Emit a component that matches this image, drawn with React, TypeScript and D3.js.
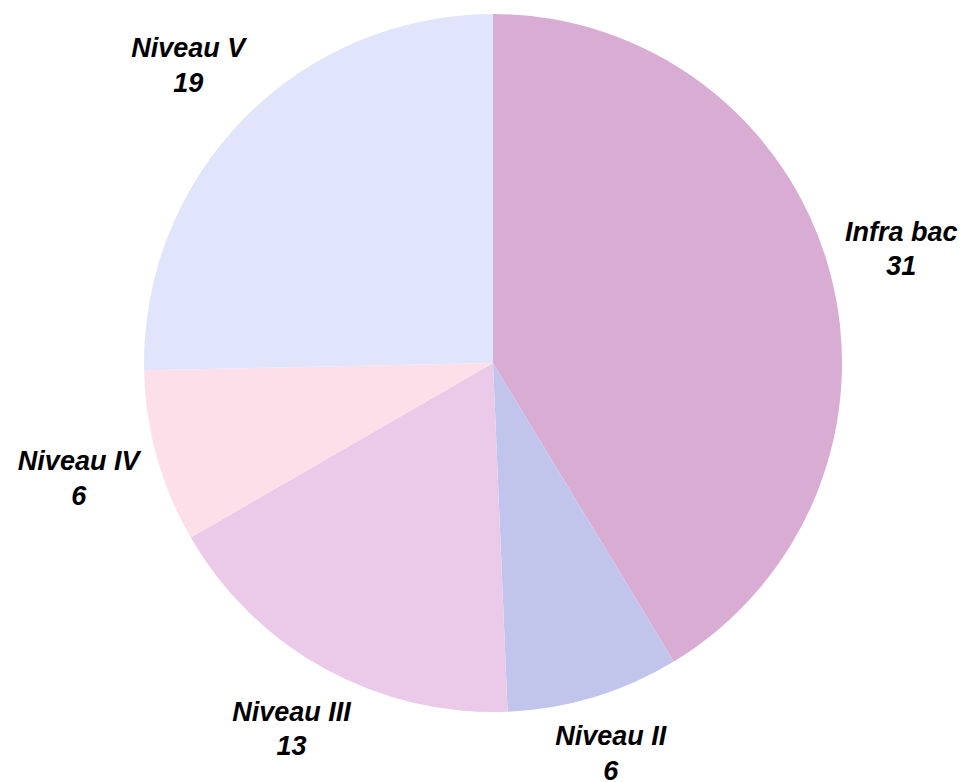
import React, { useEffect, useRef } from 'react'
import * as d3 from 'd3'

const categories = ['Infra bac', 'Niveau II', 'Niveau III', 'Niveau IV', 'Niveau V']
const values = [31, 6, 13, 6, 19]
const colors = ['#D8ACD3', '#C2C5EB', '#EBCAE9', '#FDDFE9', '#E1E5FC']

const W = 966
const H = 782

export default function App() {
  const ref = useRef<SVGSVGElement>(null)

  useEffect(() => {
    const svg = d3.select(ref.current)
    svg.selectAll('*').remove()

    const cx = 493
    const cy = 363
    const radius = 349

    const data = categories.map((c, i) => ({ name: c, value: values[i], color: colors[i] }))
    const pie = d3.pie<any>().value(d => d.value).sort(null)
    const arcs = pie(data)
    const arc = d3.arc<any>().innerRadius(0).outerRadius(radius)

    const g = svg.append('g').attr('transform', `translate(${cx}, ${cy})`)

    g.selectAll('path').data(arcs).join('path')
      .attr('d', arc)
      .attr('fill', d => d.data.color)

    // labels: name + value, placed just outside the edge
    const labels = g.selectAll('g.lbl').data(arcs).join('g').attr('class', 'lbl')
      .style('font-family', '"Liberation Sans", Arial, sans-serif')
      .style('font-weight', 'bold')
      .style('font-style', 'italic')
      .style('font-size', '27px')
      .attr('fill', '#000')

    labels.append('text').attr('text-anchor', 'middle').attr('y', 0).text(d => d.data.name)
    labels.append('text').attr('text-anchor', 'middle').attr('y', 34.5).text(d => d.data.value)

    labels.each(function (d) {
      const node = this as SVGGElement
      const bb = node.getBBox()
      const mid = (d.startAngle + d.endAngle) / 2
      const s = Math.sin(mid)
      const c = Math.cos(mid)
      const hw = bb.width / 2
      const hh = bb.height / 2
      const r = radius + 12 + hw * Math.abs(s) + hh * Math.abs(c)
      const tx = r * s - (bb.x + hw)
      const ty = -r * c - (bb.y + hh)
      d3.select(node).attr('transform', `translate(${tx}, ${ty})`)
    })
  }, [])

  return (
    <svg ref={ref} width={W} height={H} style={{ position: 'absolute', left: 0, top: 0, background: '#fff' }} />
  )
}
